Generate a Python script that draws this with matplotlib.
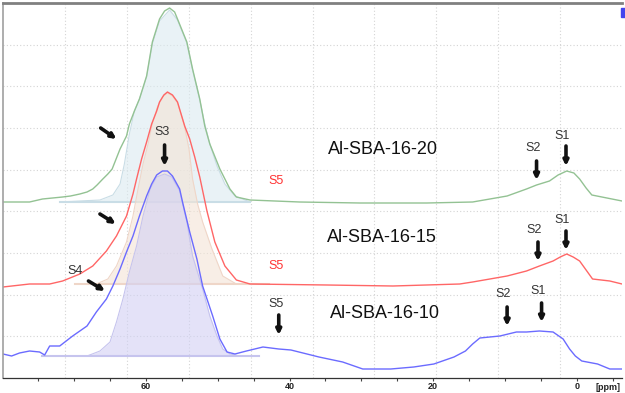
import numpy as np
import matplotlib
matplotlib.use('Agg')
import matplotlib.pyplot as plt
from matplotlib.ticker import MultipleLocator, FuncFormatter
from matplotlib.patches import Rectangle

plt.rcParams['font.family'] = ['Liberation Sans', 'DejaVu Sans']

# 27Al NMR spectra, chemical shift [ppm] vs. intensity (arbitrary, stacked)
ppm_20 = [79.9, 76.2, 74.4, 71.6, 70.5, 69.2, 68.2, 67.4, 66.8, 66.0, 65.3, 64.7, 63.6, 62.7,
          62.3, 61.6, 60.9, 59.9, 59.1, 58.1, 57.4, 56.7, 56.0, 55.6, 54.3, 53.5, 52.5, 51.8,
          51.1, 49.7, 48.3, 47.4, 45.5, 38.6, 30.2, 20.9, 14.5, 9.7, 7.0, 5.6, 3.8, 2.6, 1.4,
          0.4, -0.4, -1.3, -2.1, -4.2, -6.3]
int_20 = [176, 176, 179, 181, 182, 184, 186, 189, 193, 199, 204, 209, 229, 242,
          254, 267, 279, 302, 336, 359, 367, 370, 366, 359, 336, 309, 279, 252,
          234, 209, 189, 181, 178, 176, 175, 175, 176, 182, 189, 193, 197, 203, 207,
          205, 199, 190, 183, 180, 177]

ppm_15 = [79.9, 76.2, 73.4, 71.6, 69.2, 67.4, 65.5, 64.1, 62.7, 61.8, 61.3, 60.6, 59.9, 59.2,
          58.5, 58.1, 57.5, 57.0, 56.3, 55.6, 54.6, 53.9, 53.2, 52.5, 51.5, 50.4, 49.0, 47.4,
          45.5, 34.8, 25.6, 16.3, 14.5, 9.7, 7.0, 5.2, 3.3, 2.3, 1.4, 0.5, -0.4, -1.3, -2.2,
          -4.6, -6.3]
int_15 = [91, 94, 94, 97, 104, 112, 127, 142, 162, 184, 199, 219, 236, 254,
          267, 276, 283, 286, 283, 276, 252, 239, 221, 201, 167, 136, 112, 98,
          94, 93, 92, 94, 96, 102, 107, 112, 117, 121, 124, 121, 117, 108, 99,
          97, 94]

ppm_10 = [79.9, 78.7, 77.6, 76.2, 74.8, 74.1, 73.4, 72.0, 70.2, 68.2, 66.9, 65.5, 64.6, 63.6,
          62.7, 61.8, 60.9, 59.9, 59.2, 58.5, 57.7, 57.0, 56.3, 55.3, 54.9, 53.9, 52.9, 52.1,
          50.7, 49.7, 48.7, 47.6, 46.0, 43.7, 41.5, 39.8, 35.9, 32.6, 29.8, 25.9, 22.7, 19.9,
          17.1, 15.5, 14.5, 13.5, 12.1, 10.7, 8.4, 7.0, 5.2, 3.3, 1.9, 1.0, 0.2, -0.7, -2.9,
          -4.6, -6.3]
int_10 = [24, 22, 25, 27, 26, 23, 32, 32, 42, 52, 66, 79, 92, 109,
          126, 142, 162, 182, 194, 203, 207, 207, 202, 189, 176, 146, 119, 92,
          62, 39, 26, 24, 27, 31, 29, 28, 21, 16, 9, 9, 11, 14,
          21, 27, 34, 40, 41, 42, 46, 46, 47, 46, 39, 29, 22, 17, 14,
          9, 9]

# fitted S3 components (shaded)
fit_ppm_20 = [72.0, 66.4, 64.6, 63.6, 63.0, 62.3, 61.6, 60.9, 59.9, 59.1, 58.1, 56.7, 55.6,
              54.3, 53.5, 52.5, 51.8, 51.1, 50.1, 49.0, 47.6, 45.5]
fit_int_20 = [176, 178, 183, 194, 214, 244, 267, 279, 301, 334, 357, 368, 358,
              335, 308, 278, 254, 234, 212, 194, 182, 176]
fit_ppm_15 = [69.9, 66.9, 65.3, 64.1, 62.7, 61.8, 61.1, 60.4, 59.7, 59.1, 58.4, 57.7, 57.0,
              56.3, 55.6, 54.7, 54.0, 53.5, 52.8, 52.1, 50.8, 49.3, 47.4, 42.8]
fit_int_15 = [94, 94, 99, 112, 136, 162, 189, 214, 234, 254, 271, 281, 285,
              282, 275, 254, 229, 199, 174, 156, 129, 102, 94, 94]
fit_ppm_10 = [74.4, 68.2, 66.4, 65.0, 64.1, 63.2, 62.3, 61.3, 60.4, 59.4, 58.5, 57.4, 56.4,
              55.3, 54.3, 53.5, 52.1, 51.1, 50.1, 49.3, 48.3, 46.9, 44.2]
fit_int_10 = [22, 22, 27, 36, 56, 79, 106, 132, 162, 189, 201, 204, 201,
              187, 156, 122, 89, 62, 42, 29, 24, 22, 22]

fig = plt.figure(figsize=(6.25, 3.93), dpi=100)
ax = fig.add_axes([3 / 625, 15 / 393, 619 / 625, 375 / 393])

# screen-style dotted grid (10 columns x 9 rows)
for k in range(1, 10):
    ax.plot([k / 10, k / 10], [0, 1], transform=ax.transAxes, color='#d4d4d4',
            lw=0.8, ls=(0, (1, 2)), zorder=0)
for k in range(1, 10):
    ax.plot([0, 1], [k / 9, k / 9], transform=ax.transAxes, color='#d4d4d4',
            lw=0.8, ls=(0, (1, 2)), zorder=0)

fills = [(fit_ppm_20, fit_int_20, '#dbeaf0', '#c9dde6'),
         (fit_ppm_15, fit_int_15, '#f4e4d6', '#efd6c8'),
         (fit_ppm_10, fit_int_10, '#d2d0f4', '#c6c4ee')]
for fx, fy, fc, ec in fills:
    ax.fill_between(fx, fy, fy[0], color=fc, alpha=0.6, lw=0, zorder=1)
    ax.plot(fx, fy, color=ec, lw=0.8, zorder=1)
    ax.plot([fx[0], fx[-1]], [fy[0], fy[0]], color=ec, lw=1.5, zorder=1)

ax.plot(ppm_20, int_20, color='#93c293', lw=1.0, zorder=2)
ax.plot(ppm_15, int_15, color='#ff6666', lw=1.0, zorder=2)
ax.plot(ppm_10, int_10, color='#6b6bff', lw=1.0, zorder=2)

# sample names
ax.text(27.0, 228, 'Al-SBA-16-20', fontsize=13, ha='center', va='center', color='#111111')
ax.text(27.2, 141, 'Al-SBA-16-15', fontsize=13, ha='center', va='center', color='#111111')
ax.text(26.7, 64, 'Al-SBA-16-10', fontsize=13, ha='center', va='center', color='#111111')

# site labels
labels = [('S3', 57.7, 246, '#333333'), ('S4', 69.8, 107, '#333333'),
          ('S5', 41.9, 197, '#ff3333'), ('S5', 41.9, 112, '#ff3333'), ('S5', 41.9, 74, '#333333'),
          ('S2', 6.1, 230, '#333333'), ('S1', 2.1, 242, '#333333'),
          ('S2', 6.0, 148, '#333333'), ('S1', 2.1, 158, '#333333'),
          ('S2', 10.3, 84, '#333333'), ('S1', 5.4, 87, '#333333')]
for s, x, y, c in labels:
    ax.text(x, y, s, fontsize=9, ha='center', va='center', color=c)

arrows = [((57.4, 233), (57.4, 212)), ((66.3, 250), (64.1, 239)), ((66.4, 164), (64.2, 154)),
          ((68.0, 97), (65.7, 87)), ((41.5, 63), (41.5, 43)),
          ((5.6, 217), (5.6, 198)), ((1.5, 232), (1.5, 212)),
          ((5.4, 136), (5.4, 117)), ((1.5, 147), (1.5, 128)),
          ((9.7, 71), (9.7, 52)), ((4.9, 75), (4.9, 56))]
for (x0, y0), (x1, y1) in arrows:
    ax.annotate('', xy=(x1, y1), xytext=(x0, y0),
                arrowprops=dict(arrowstyle='-|>', lw=2.6, color='#111111',
                                mutation_scale=7, shrinkA=0, shrinkB=0))

ax.set_xlim(79.9, -6.3)
ax.set_ylim(0, 375)
ax.xaxis.set_major_locator(MultipleLocator(5))
ax.xaxis.set_major_formatter(FuncFormatter(
    lambda v, p: '%d' % v if (abs(v % 20) < 1e-6 and v < 70) else ''))
ax.tick_params(axis='x', direction='out', length=2.5, width=0.8, pad=0.5,
               labelsize=6.5, labelcolor='#222222', color='#444444')
for lab in ax.get_xticklabels():
    lab.set_fontweight('bold')
ax.set_yticks([])
ax.spines['right'].set_visible(False)
ax.spines['left'].set_color('#a0a0a0')
ax.spines['left'].set_linewidth(1.2)
ax.spines['top'].set_color('#808080')
ax.spines['top'].set_linewidth(2)
ax.spines['bottom'].set_color('#333333')
ax.spines['bottom'].set_linewidth(0.9)
ax.text(0.998, -0.012, '[ppm]', transform=ax.transAxes, fontsize=6.5, fontweight='bold',
        ha='right', va='top', color='#222222')

fig.patches.append(Rectangle((621 / 625, 1 - 17 / 393), 4 / 625, 9 / 393,
                             transform=fig.transFigure, color='#4444ee'))

fig.savefig('out.png', dpi=100)
